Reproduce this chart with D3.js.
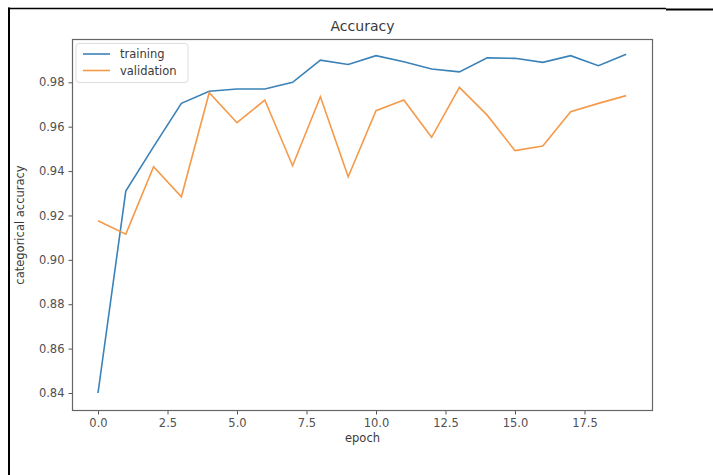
<!DOCTYPE html>
<html lang="en">

<head>
    <meta charset="utf-8">
    <title>Accuracy</title>
    <script src="https://d3js.org/d3.v7.min.js"></script>
    <style>
      body { margin: 0; background: #fff; }
      text { font-family: "DejaVu Sans", sans-serif; fill: #3a3a3a; }
      .axis path { display: none; }
      .axis line { stroke: #555; }
      .axis text { font-size: 11.5px; fill: #505050; }
      .series { fill: none; stroke-width: 1.6; }
    </style>
</head>

<body>
    <script type="text/javascript">
    var epochs = d3.range(0, 20);
    var training = [0.840, 0.931, 0.951, 0.9705, 0.976, 0.977, 0.977, 0.980, 0.990, 0.988,
                    0.992, 0.9893, 0.986, 0.9847, 0.991, 0.9908, 0.989, 0.992, 0.9875, 0.9926];
    var validation = [0.9176, 0.9116, 0.942, 0.9284, 0.9753, 0.9618, 0.972, 0.9424, 0.9735, 0.9374,
                      0.9672, 0.972, 0.9552, 0.9777, 0.9652, 0.9492, 0.9513, 0.9667, 0.9705, 0.974];
    var xTicks = [0, 2.5, 5, 7.5, 10, 12.5, 15, 17.5];
    var yTicks = [0.84, 0.86, 0.88, 0.90, 0.92, 0.94, 0.96, 0.98];
    var seriesNames = ['training', 'validation'];
    var colors = ['#3a82b8', '#f59a4a'];

    var w = 713, h = 475;
    var frame = {left: 72.5, right: 652.5, top: 39.5, bottom: 410.5};

    var x = d3.scaleLinear().domain([0, 17.5]).range([98, 584.5]);
    var y = d3.scaleLinear().domain([0.84, 0.98]).range([393, 82.3]);

    var svg = d3.select('body').append('svg')
        .attr('width', w)
        .attr('height', h);

    // screenshot border
    svg.append('line').attr('x1', 9).attr('x2', 9).attr('y1', 7.5).attr('y2', h)
      .attr('stroke', '#000').attr('stroke-width', 2);
    svg.append('line').attr('x1', 8).attr('x2', 666).attr('y1', 8.5).attr('y2', 8.5)
      .attr('stroke', '#000').attr('stroke-width', 1.5);
    svg.append('line').attr('x1', 666).attr('x2', w).attr('y1', 9.5).attr('y2', 9.5)
      .attr('stroke', '#000').attr('stroke-width', 2);

    var line = d3.line()
      .x(function(d, i) { return x(epochs[i]); })
      .y(function(d) { return y(d); });

    svg.selectAll('.series')
      .data([training, validation])
      .enter().append('path')
        .attr('class', 'series')
        .attr('stroke', function(d, i) { return colors[i]; })
        .attr('d', line);

    var xAxis = d3.axisBottom(x).tickValues(xTicks).tickSize(4).tickPadding(4)
      .tickFormat(d3.format('.1f'));
    var yAxis = d3.axisLeft(y).tickValues(yTicks).tickSize(4).tickPadding(4)
      .tickFormat(d3.format('.2f'));

    svg.append('g')
      .attr('class', 'x axis')
      .attr('transform', 'translate(0,' + frame.bottom + ')')
      .call(xAxis);
    svg.append('g')
      .attr('class', 'y axis')
      .attr('transform', 'translate(' + frame.left + ',0)')
      .call(yAxis);

    svg.append('rect')
      .attr('x', frame.left).attr('y', frame.top)
      .attr('width', frame.right - frame.left)
      .attr('height', frame.bottom - frame.top)
      .attr('fill', 'none')
      .attr('stroke', '#666')
      .attr('stroke-width', 1.2);

    svg.append('text')
      .attr('x', (frame.left + frame.right) / 2)
      .attr('y', 31)
      .attr('text-anchor', 'middle')
      .style('font-size', '14px')
      .text('Accuracy');

    svg.append('text')
      .attr('x', (frame.left + frame.right) / 2)
      .attr('y', 442)
      .attr('text-anchor', 'middle')
      .style('font-size', '11.5px')
      .text('epoch');

    svg.append('text')
      .attr('transform', 'translate(24,' + (frame.top + frame.bottom) / 2 + ') rotate(-90)')
      .attr('text-anchor', 'middle')
      .style('font-size', '11.5px')
      .text('categorical accuracy');

    // legend
    var legend = svg.append('g').attr('transform', 'translate(76,43.5)');
    legend.append('rect')
      .attr('width', 112).attr('height', 39)
      .attr('rx', 3)
      .attr('fill', '#fff').attr('fill-opacity', 0.8)
      .attr('stroke', '#ddd');
    var item = legend.selectAll('.item')
      .data(seriesNames)
      .enter().append('g')
        .attr('class', 'item')
        .attr('transform', function(d, i) { return 'translate(0,' + (10.5 + i * 16.5) + ')'; });
    item.append('line')
      .attr('x1', 7).attr('x2', 34)
      .attr('stroke', function(d, i) { return colors[i]; })
      .attr('stroke-width', 1.6);
    item.append('text')
      .attr('x', 44).attr('dy', '0.35em')
      .style('font-size', '11.5px')
      .text(function(d) { return d; });
    </script>
</body>

</html>
